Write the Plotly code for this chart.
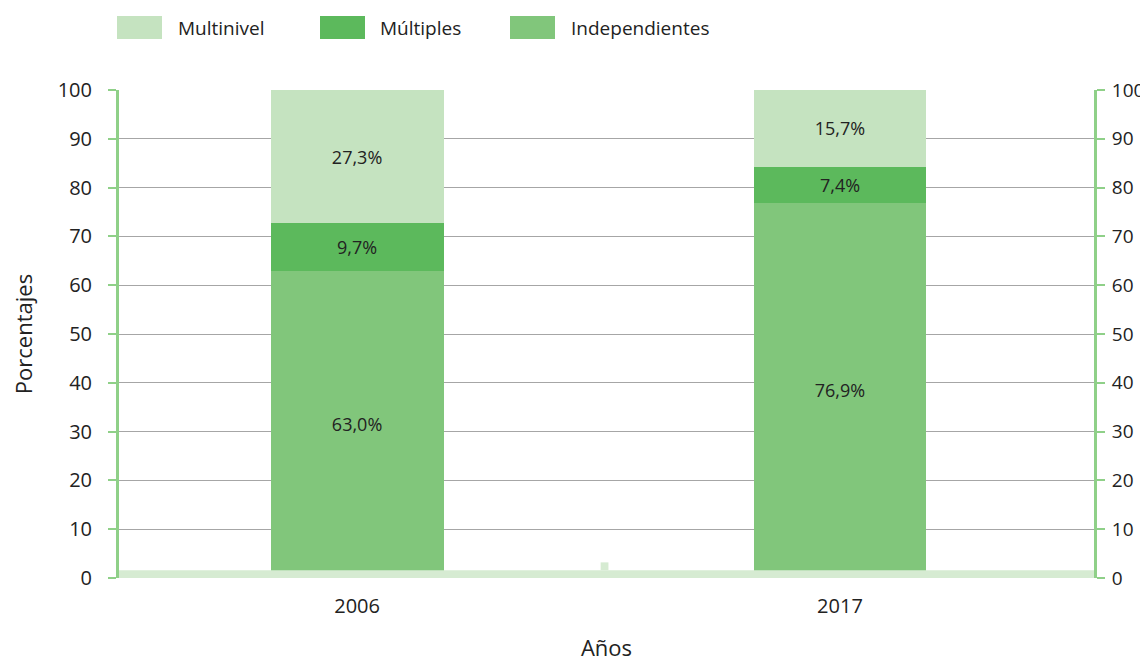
import plotly.graph_objects as go

years = ["2006", "2017"]
independientes = [63.0, 76.9]
multiples = [9.7, 7.4]
multinivel = [27.3, 15.7]
colors = {"Multinivel": "#c5e3c0", "Múltiples": "#5cb95c", "Independientes": "#81c67b"}
y_ticks = list(range(0, 101, 10))

FONT = "Open Sans, Noto Sans, sans-serif"
AXIS_GREEN = "#8fd088"
TXT = "#222222"

def fmt(v):
    return f"{v:.1f}".replace(".", ",") + "%"

fig = go.Figure()
for name, vals in [("Independientes", independientes), ("Múltiples", multiples), ("Multinivel", multinivel)]:
    fig.add_trace(go.Bar(
        x=years, y=vals, name=name, marker=dict(color=colors[name], line=dict(width=0)),
        text=[fmt(v) for v in vals], textposition="inside", insidetextanchor="middle",
        textfont=dict(family=FONT, size=18, color=TXT), width=0.358,
        showlegend=False, hoverinfo="skip",
    ))
# invisible trace to activate the right axis
fig.add_trace(go.Scatter(x=years, y=[0, 0], yaxis="y2", mode="markers",
                         marker=dict(opacity=0), showlegend=False, hoverinfo="skip"))

axis_common = dict(
    range=[0, 100], tickvals=y_ticks, showline=True, linecolor=AXIS_GREEN, linewidth=3,
    ticks="outside", ticklen=8, tickcolor=AXIS_GREEN, tickwidth=2,
    tickfont=dict(family=FONT, size=20, color=TXT), zeroline=False, fixedrange=True,
    automargin=False,
)

# page body has an 8px default margin
L, R, T, B = 111, 54, 82, 84
W, H = 1140, 654
fig.update_layout(
    barmode="stack",
    width=W, height=H,
    margin=dict(l=L, r=R, t=T, b=B, autoexpand=False),
    paper_bgcolor="white", plot_bgcolor="white",
    font=dict(family=FONT, color=TXT),
    xaxis=dict(type="category", range=[-0.493, 1.526], showline=False, ticks="",
               ticklabelstandoff=14, automargin=False,
               tickfont=dict(family=FONT, size=20, color=TXT),
               title=dict(text="Años", font=dict(family=FONT, size=22), standoff=40)),
    yaxis=dict(**axis_common, ticklabelstandoff=12, showgrid=True, gridcolor="#a6a6a6", gridwidth=1,
               title=dict(text="Porcentajes", font=dict(family=FONT, size=22), standoff=26)),
    yaxis2=dict(**{**axis_common, "tickfont": dict(family=FONT, size=19, color=TXT)},
                ticklabelstandoff=3, overlaying="y", side="right", showgrid=False),
)

# base band and small marker
fig.add_shape(type="rect", xref="paper", yref="y", x0=0, x1=1, y0=0, y1=1.6,
              fillcolor="#d6ebd2", line=dict(width=0), layer="above")
fig.add_shape(type="rect", xref="paper", yref="y", x0=0.494, x1=0.502, y0=1.6, y1=3.2,
              fillcolor="#d6ebd2", line=dict(width=0), layer="above")

# custom legend (pixel positions in the page, converted to paper coords)
px0, pw = 8 + L, W - L - R
py_bottom, ph = 8 + H - B, H - T - B
legend_items = [("Multinivel", 117, 176), ("Múltiples", 320, 378), ("Independientes", 510, 569)]
for name, sx, tx in legend_items:
    fig.add_shape(type="rect", xref="paper", yref="paper",
                  x0=(sx - px0) / pw, x1=(sx + 45 - px0) / pw,
                  y0=(py_bottom - 39) / ph, y1=(py_bottom - 16) / ph,
                  fillcolor=colors[name], line=dict(width=0))
    fig.add_annotation(xref="paper", yref="paper", x=(tx - px0) / pw, y=(py_bottom - 28) / ph,
                       text=name, showarrow=False, xanchor="left", yanchor="middle",
                       font=dict(family=FONT, size=19, color=TXT))

fig.write_html("out.html")
